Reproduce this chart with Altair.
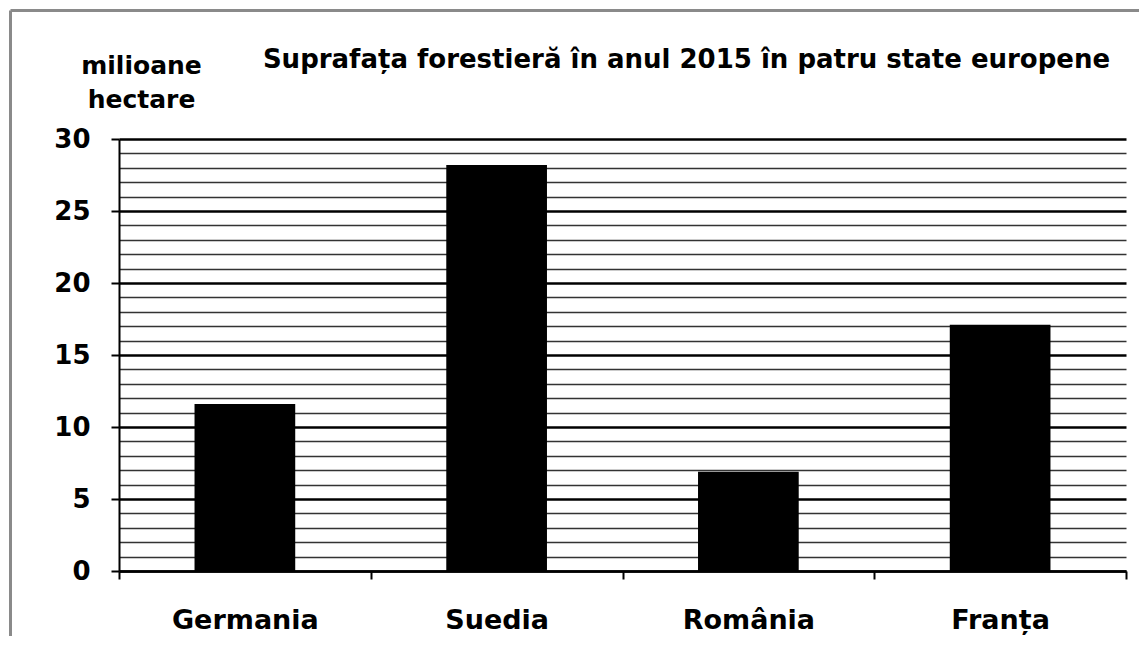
import altair as alt
import pandas as pd

# ---- data ----
countries = ["Germania", "Suedia", "România", "Franța"]
values = [11.6, 28.2, 6.9, 17.1]
y_ticks = list(range(0, 31))
y_title = ["milioane", "hectare"]
title_text = "Suprafața forestieră în anul 2015 în patru state europene"

df = pd.DataFrame({"tara": countries, "suprafata": values})
frame_df = pd.DataFrame({"k": [0]})

FONT = "DejaVu Sans"
MAJOR = "datum.value % 5 === 0"

bars = alt.Chart(df).mark_bar(color="black", width=alt.RelativeBandSize(0.4)).encode(
    x=alt.X(
        "tara:N",
        sort=countries,
        scale=alt.Scale(paddingInner=0, paddingOuter=0),
        axis=alt.Axis(
            title=None, labelAngle=0, tickBand="extent",
            labelFont=FONT, labelFontWeight="bold", labelFontSize=27, labelColor="black",
            labelBaseline="alphabetic", labelPadding=49,
            tickSize=8, tickWidth=2, tickColor="black",
            domainColor="black", domainWidth=2.5, grid=False,
        ),
    ),
    y=alt.Y(
        "suprafata:Q",
        scale=alt.Scale(domain=[0, 30], nice=False),
        axis=alt.Axis(
            values=y_ticks,
            title=y_title, titleAngle=0, titleAlign="center", titleBaseline="alphabetic",
            titleX=22, titleY=-66, titleLineHeight=34,
            titleFont=FONT, titleFontWeight="bold", titleFontSize=25, titleColor="black",
            labelExpr="datum.value % 5 === 0 ? datum.label : ''",
            labelFont=FONT, labelFontWeight="bold", labelFontSize=26, labelColor="black",
            labelPadding=21, labelBaseline="middle", labelOverlap=False, labelFlush=False,
            tickSize=8, tickWidth=2, tickColor="black",
            tickOpacity={"condition": {"test": MAJOR, "value": 1}, "value": 0},
            grid=True,
            gridColor={"condition": {"test": MAJOR, "value": "black"}, "value": "#333333"},
            gridWidth={"condition": {"test": MAJOR, "value": 2.5}, "value": 1.3},
            domainColor="black", domainWidth=2,
        ),
    ),
)

left_border = alt.Chart(frame_df).mark_rule(color="#8a8a8a", strokeWidth=3).encode(
    x=alt.value(-108.5), y=alt.value(-128.5), y2=alt.value(500)
)
top_border = alt.Chart(frame_df).mark_rule(color="#8a8a8a", strokeWidth=3).encode(
    x=alt.value(-108.5), x2=alt.value(1020), y=alt.value(-128.5)
)

chart = alt.layer(bars, left_border, top_border).properties(
    width=1007,
    height=432,
    autosize=alt.AutoSizeParams(type="none"),
    padding={"left": 111, "top": 131, "right": 13, "bottom": 65},
    title=alt.TitleParams(
        title_text, anchor="middle", frame="group", dx=64, offset=-85,
        baseline="alphabetic", font=FONT, fontWeight="bold", fontSize=26, color="black",
    ),
    background="white",
).configure_view(stroke=None)

chart.save("out.html", embed_options={"renderer": "svg", "actions": False})
